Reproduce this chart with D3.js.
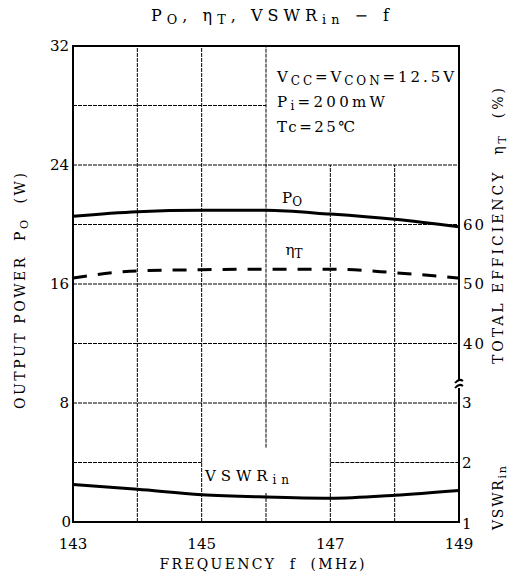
<!DOCTYPE html>
<html><head><meta charset="utf-8">
<script src="https://cdn.jsdelivr.net/npm/d3@7"></script>
<style>body{margin:0;background:#fff}text{font-family:"DejaVu Serif","Liberation Serif",serif;fill:#000}</style>
</head><body>
<script>
const freq = [143, 144, 145, 146, 147, 148, 149];
const po   = [20.55, 20.85, 20.95, 20.95, 20.7, 20.35, 19.85];
const eff  = [51.0, 52.2, 52.4, 52.5, 52.5, 51.9, 51.0];
const vswr = [1.63, 1.55, 1.46, 1.42, 1.40, 1.45, 1.53];
const poTicks = [0, 8, 16, 24, 32];
const effTicks = [40, 50, 60];
const vswrTicks = [1, 2, 3];
const xTicks = [143, 145, 147, 149];

const W = 514, H = 576;
const svg = d3.select("body").append("svg").attr("width", W).attr("height", H);
const x = d3.scaleLinear().domain([143, 149]).range([73, 459]);
const y = d3.scaleLinear().domain([0, 32]).range([522, 46]);
const yE = d3.scaleLinear().domain([10, 90]).range([522, 46]);
const yV = d3.scaleLinear().domain([1, 9]).range([522, 46]);

const g = svg.append("g");
// grid
const gridStyle = s => s.attr("stroke", "#000").attr("stroke-width", 1).attr("stroke-dasharray", "4,1");
d3.range(144, 149).forEach(f => {
  let segs = [[0, 32]];
  if (f === 147 || f === 148) segs = [[0, 24]];
  if (f === 146) segs = [[0, 2], [5, 32]];
  segs.forEach(s => gridStyle(g.append("line").attr("x1", x(f)).attr("x2", x(f)).attr("y1", y(s[0])).attr("y2", y(s[1]))));
});
d3.range(4, 32, 4).forEach(v => {
  let segs = [[143, 149]];
  if (v === 28) segs = [[143, 146]];
  if (v === 4) segs = [[143, 145], [147, 149]];
  segs.forEach(s => gridStyle(g.append("line").attr("x1", x(s[0])).attr("x2", x(s[1])).attr("y1", y(v)).attr("y2", y(v))));
});
// frame
g.append("rect").attr("x", x(143)).attr("y", y(32)).attr("width", x(149) - x(143)).attr("height", y(0) - y(32))
  .attr("fill", "none").attr("stroke", "#000").attr("stroke-width", 2);

// curves
const line = (ys, vals) => d3.line().x((d, i) => x(freq[i])).y(d => ys(d)).curve(d3.curveMonotoneX)(vals);
g.append("path").attr("d", line(y, po)).attr("fill", "none").attr("stroke", "#000").attr("stroke-width", 3);
g.append("path").attr("d", line(yE, eff)).attr("fill", "none").attr("stroke", "#000").attr("stroke-width", 3).attr("stroke-dasharray", "14,11");
g.append("path").attr("d", line(yV, vswr)).attr("fill", "none").attr("stroke", "#000").attr("stroke-width", 3);

// right axis break mark
const yb = 385;
g.append("rect").attr("x", x(149) - 4).attr("y", yb - 5).attr("width", 8).attr("height", 8).attr("fill", "#fff");
g.append("path").attr("d", `M${x(149)-4},${yb-2} q4,-5 8,-2 M${x(149)-4},${yb+3} q4,-5 8,-2`).attr("fill", "none").attr("stroke", "#000").attr("stroke-width", 2);

// tick labels
g.selectAll(".yl").data(poTicks).join("text").attr("x", d => d === 0 ? 71 : 69).attr("y", d => y(d)).attr("dy", "0.35em")
  .attr("text-anchor", "end").attr("font-size", 15).text(d => d);
g.selectAll(".el").data(effTicks).join("text").attr("x", 463).attr("y", d => yE(d)).attr("dy", "0.35em")
  .attr("font-size", 15).attr("letter-spacing", 2).text(d => d);
g.selectAll(".vl").data(vswrTicks).join("text").attr("x", 462).attr("y", d => yV(d) - (d === 1 ? -2 : 0)).attr("dy", "0.35em")
  .attr("font-size", 15).text(d => d);
g.selectAll(".xl").data(xTicks).join("text").attr("x", d => x(d)).attr("y", 549)
  .attr("text-anchor", "middle").attr("font-size", 15).text(d => d);

// helper for sub text
function sub(t, parts, size, len) {
  parts.forEach(p => {
    const ts = t.append("tspan").text(p[0]);
    if (p[1] === "sub") ts.attr("font-size", size * 0.8).attr("baseline-shift", "-25%");
  });
  if (len) t.attr("textLength", len).attr("lengthAdjust", "spacing");
  return t;
}
// title
sub(svg.append("text").attr("x", 270).attr("y", 21).attr("text-anchor", "middle").attr("font-size", 16),
  [["P"], ["O", "sub"], [", "], ["η"], ["T", "sub"], [", VSWR"], ["in", "sub"], [" − f"]], 16, 238);
// axis titles
sub(svg.append("text").attr("x", 262).attr("y", 569).attr("text-anchor", "middle").attr("font-size", 14)
  .attr("xml:space", "preserve"), [["FREQUENCY  f  (MHz)"]], 14, 205);
sub(svg.append("text").attr("transform", "translate(25,291) rotate(-90)").attr("text-anchor", "middle").attr("font-size", 14)
  .attr("xml:space", "preserve"), [["OUTPUT POWER  P"], ["O", "sub"], ["  (W)"]], 14, 236);
sub(svg.append("text").attr("transform", "translate(503,226) rotate(-90)").attr("text-anchor", "middle").attr("font-size", 14)
  .attr("xml:space", "preserve"), [["TOTAL EFFICIENCY  η"], ["T", "sub"], ["  (%)"]], 14, 276);
sub(svg.append("text").attr("transform", "translate(503,498) rotate(-90)").attr("text-anchor", "middle").attr("font-size", 14),
  [["VSWR"], ["in", "sub"]], 14, 64);

// curve labels
sub(svg.append("text").attr("x", 292).attr("y", 203).attr("text-anchor", "middle").attr("font-size", 15), [["P"], ["O", "sub"]], 15);
sub(svg.append("text").attr("x", 294).attr("y", 255).attr("text-anchor", "middle").attr("font-size", 15), [["η"], ["T", "sub"]], 15);
sub(svg.append("text").attr("x", 247).attr("y", 481).attr("text-anchor", "middle").attr("font-size", 15), [["VSWR"], ["in", "sub"]], 15, 84);

// conditions text
const cx = 277;
sub(svg.append("text").attr("x", cx).attr("y", 82).attr("font-size", 15), [["V"], ["CC", "sub"], ["=V"], ["CON", "sub"], ["=12.5V"]], 15, 177);
sub(svg.append("text").attr("x", cx).attr("y", 107).attr("font-size", 15), [["P"], ["i", "sub"], ["=200mW"]], 15, 108);
sub(svg.append("text").attr("x", cx).attr("y", 132).attr("font-size", 15), [["Tc=25℃"]], 15, 78);
</script>
</body></html>
